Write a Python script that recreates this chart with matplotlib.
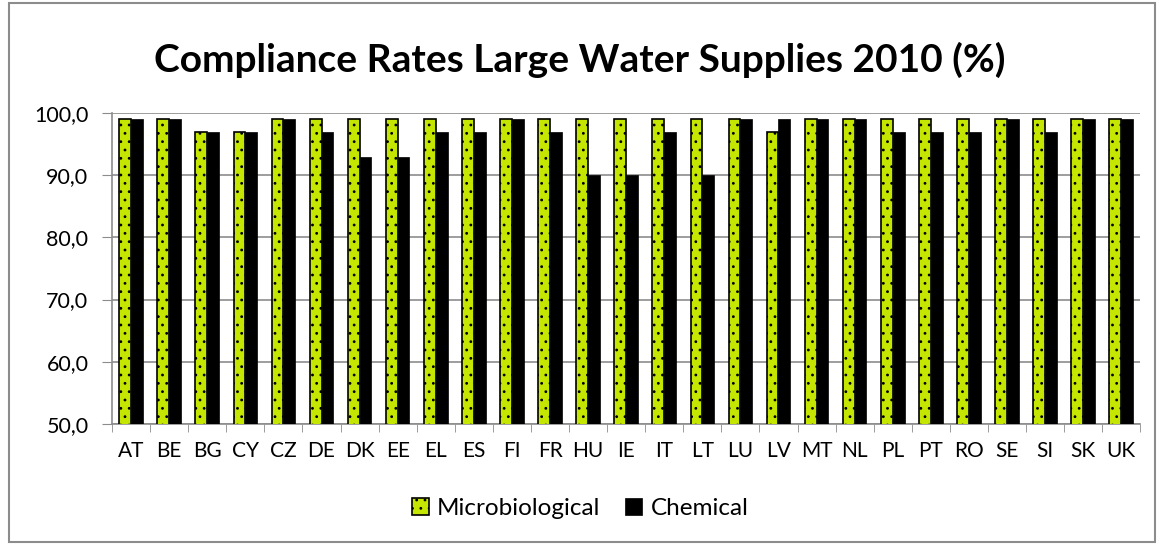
import matplotlib.pyplot as plt
import matplotlib.ticker as mticker
from matplotlib.patches import Rectangle
import numpy as np

countries = ['AT', 'BE', 'BG', 'CY', 'CZ', 'DE', 'DK', 'EE', 'EL', 'ES', 'FI', 'FR', 'HU', 'IE',
             'IT', 'LT', 'LU', 'LV', 'MT', 'NL', 'PL', 'PT', 'RO', 'SE', 'SI', 'SK', 'UK']
microbiological = [99, 99, 97, 97, 99, 99, 99, 99, 99, 99, 99, 99, 99, 99,
                   99, 99, 99, 97, 99, 99, 99, 99, 99, 99, 99, 99, 99]
chemical = [99, 99, 97, 97, 99, 97, 93, 93, 97, 97, 99, 97, 90, 90,
            97, 90, 99, 99, 99, 99, 97, 97, 97, 99, 97, 99, 99]

plt.rcParams['font.family'] = ['Lato', 'DejaVu Sans']
plt.rcParams['hatch.color'] = '#333333'
plt.rcParams['hatch.linewidth'] = 0.8

fig = plt.figure(figsize=(11.6, 5.44), dpi=100)
ax = fig.add_axes([0.0966, 0.2206, 0.8864, 0.5717])

# outer chart border
fig.patches.append(Rectangle((0.008, 0.004), 0.988, 0.99, transform=fig.transFigure,
                             fill=False, edgecolor='#8c8c8c', linewidth=1.5))

x = np.arange(len(countries))
w = 0.31
ax.bar(x - w / 2, microbiological, w, color='#c4e600', edgecolor='black',
       linewidth=1.2, hatch='..', label='Microbiological', zorder=3)
ax.bar(x + w / 2, chemical, w, color='black', edgecolor='black', linewidth=0.5,
       label='Chemical', zorder=3)

ax.set_ylim(50, 100)
ax.set_xlim(-0.5, len(countries) - 0.5)
ax.yaxis.set_major_locator(mticker.MultipleLocator(10))
ax.yaxis.set_major_formatter(mticker.FuncFormatter(lambda v, p: f'{v:.1f}'.replace('.', ',')))
ax.yaxis.grid(True, color='#8c8c8c', linewidth=1.2, zorder=0)

ax.set_xticks(x)
ax.set_xticklabels(countries)
ax.set_xticks(np.arange(-0.5, len(countries), 1), minor=True)
ax.tick_params(axis='x', which='major', length=0, pad=12, labelsize=15)
ax.tick_params(axis='x', which='minor', length=6, color='#8c8c8c')
ax.tick_params(axis='y', length=7, color='#8c8c8c', labelsize=15.5, pad=10)

for side in ['top', 'right']:
    ax.spines[side].set_visible(False)
for side in ['left', 'bottom']:
    ax.spines[side].set_color('#8c8c8c')
    ax.spines[side].set_linewidth(1.2)

fig.text(0.5, 0.89, 'Compliance Rates Large Water Supplies 2010 (%)', ha='center', va='center',
         fontsize=28, fontweight='bold')

fig.legend(loc='center', bbox_to_anchor=(0.5, 0.065), ncol=2, frameon=False, fontsize=17.5,
           handlelength=0.7, handleheight=0.7, handletextpad=0.35, columnspacing=1.0)

fig.savefig('out.png', dpi=100)
